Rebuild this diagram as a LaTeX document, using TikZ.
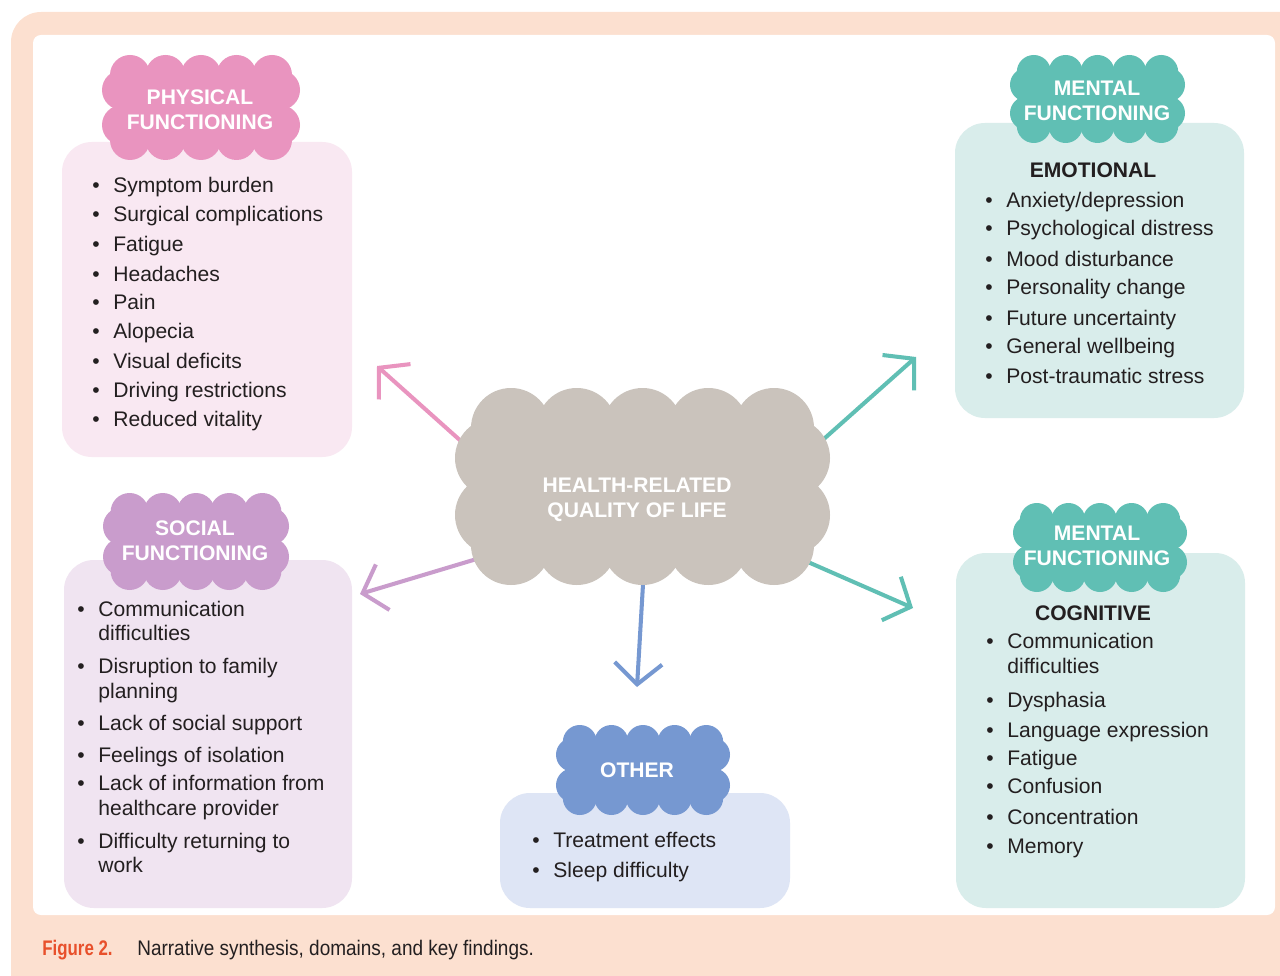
\documentclass[tikz,border=0pt]{standalone}
\usepackage{fontspec}
\setmainfont{Liberation Sans}
\newfontfamily\capfont[FakeStretch=0.9]{Liberation Sans}
\newfontfamily\caplblfont[FakeStretch=0.8]{Liberation Sans}
\usetikzlibrary{arrows.meta}

\definecolor{peach}{HTML}{FCE0D0}
\definecolor{ink}{HTML}{231F20}
\definecolor{figred}{HTML}{E8502B}
\definecolor{pinkcl}{HTML}{E994BF}
\definecolor{pinkbx}{HTML}{F9E8F2}
\definecolor{tealcl}{HTML}{60BFB4}
\definecolor{tealbx}{HTML}{D9EDEB}
\definecolor{purpcl}{HTML}{C99CCC}
\definecolor{purpbx}{HTML}{F0E4F1}
\definecolor{bluecl}{HTML}{7698D1}
\definecolor{bluebx}{HTML}{DEE5F5}
\definecolor{greycl}{HTML}{CAC3BC}

\pgfdeclarelayer{back}
\pgfdeclarelayer{mid}
\pgfsetlayers{back,mid,main}

% bumpy cloud: x1, y1, x2, y2, bump radius, colour
\newcommand{\puffcloud}[6]{%
  \fill[#6] ({#1+#5},{#2+#5}) rectangle ({#3-#5},{#4-#5});
  \foreach \k in {0,...,4}{
    \fill[#6] ({#1+1.4*#5+\k*(#3-#1-2.8*#5)/4},{#2+#5}) circle[radius=#5];
    \fill[#6] ({#1+1.4*#5+\k*(#3-#1-2.8*#5)/4},{#4-#5}) circle[radius=#5];
  }
  \foreach \k in {0,1}{
    \fill[#6] ({#1+#5},{#2+1.75*#5+\k*(#4-#2-3.5*#5)}) circle[radius=#5];
    \fill[#6] ({#3-#5},{#2+1.75*#5+\k*(#4-#2-3.5*#5)}) circle[radius=#5];
  }
}
\newcommand{\bul}{\makebox[0.42cm][l]{\textbullet}}
\newcommand{\nobul}{\hspace*{0.42cm}}

\begin{document}
\begin{tikzpicture}[x=0.02cm, y=-0.02cm,
    item/.style={anchor=base west, inner sep=0pt, text=ink, font=\fontsize{12}{14.4}\selectfont},
    head/.style={anchor=base, inner sep=0pt, text=ink, font=\fontsize{12}{14.4}\selectfont\bfseries},
    cloudtext/.style={align=center, inner sep=0pt, text=white, font=\fontsize{12}{14.4}\selectfont\bfseries},
    link/.style={line width=2.3pt, line cap=round, -{Straight Barb[length=0.42cm, width=0.95cm]}},
    panel/.style={rounded corners=0.6cm}]
\useasboundingbox (0,0) rectangle (1280,976);
\clip (0,0) rectangle (1280,976);

\begin{pgfonlayer}{back}
  \fill[peach, rounded corners=0.6cm] (11,12) rectangle (1320,1010);
  \fill[white, rounded corners=0.16cm] (33,35) rectangle (1275,915);
  \fill[pinkbx, panel] (62,142) rectangle (352,457);
  \fill[tealbx, panel] (955,123) rectangle (1244,418);
  \fill[purpbx, panel] (64,560) rectangle (352,908);
  \fill[tealbx, panel] (956,553) rectangle (1245,908);
  \fill[bluebx, panel] (500,793) rectangle (790,908);
\end{pgfonlayer}

% clouds
\puffcloud{455}{388}{830}{585}{40}{greycl}
\puffcloud{102}{55}{300}{160}{20}{pinkcl}
\puffcloud{1010}{55}{1185}{143}{17}{tealcl}
\puffcloud{103}{493}{289}{590}{19}{purpcl}
\puffcloud{1013}{503}{1187}{592}{17}{tealcl}
\puffcloud{556}{725}{730}{815}{17}{bluecl}

\node[cloudtext, minimum width=7.5cm, minimum height=3.9cm] (hrql) at (637,500) {HEALTH-RELATED\\QUALITY OF LIFE};
\node[cloudtext] (physcl) at (200,110) {PHYSICAL\\FUNCTIONING};
\node[cloudtext] (mentcl) at (1097,101) {MENTAL\\FUNCTIONING};
\node[cloudtext] (soccl) at (195,541) {SOCIAL\\FUNCTIONING};
\node[cloudtext] (cogcl) at (1097,546) {MENTAL\\FUNCTIONING};
\node[cloudtext] (othcl) at (637,770) {OTHER};

% arrows out of the centre
\coordinate (physend) at (377,366);
\coordinate (socend) at (360,594);
\coordinate (mentend) at (916,357);
\coordinate (cogend) at (913,608);
\coordinate (othend) at (637,687);
\begin{pgfonlayer}{mid}
  \draw[link, pinkcl] ([shift={(-137,-24)}]hrql.center) -- (physend);
  \draw[link, purpcl] ([shift={(-117,46)}]hrql.center) -- (socend);
  \draw[link, tealcl] ([shift={(143,-22)}]hrql.center) -- (mentend);
  \draw[link, tealcl] ([shift={(123,41)}]hrql.center) -- (cogend);
  \draw[link, bluecl] ([shift={(8,50)}]hrql.center) -- (othend);
\end{pgfonlayer}

% lists
\foreach \y/\t [count=\i] in {193/Symptom burden, 222/Surgical complications, 252/Fatigue, 281/Headaches, 310/Pain, 338/Alopecia, 368/Visual deficits, 397/Driving restrictions, 426/Reduced vitality}
  \node[item] (phys\i) at (92,\y) {\bul\t};

\node[head] (emohead) at (1093,178) {EMOTIONAL};
\foreach \y/\t [count=\i] in {208/{Anxiety/depression}, 236/Psychological distress, 267/Mood disturbance, 295/Personality change, 325/Future uncertainty, 353/General wellbeing, 383/Post-traumatic stress}
  \node[item] (emo\i) at (985,\y) {\bul\t};

\foreach \y/\t [count=\i] in {616/\bul Communication, 640/\nobul difficulties, 673/\bul Disruption to family, 698/\nobul planning, 730/\bul Lack of social support, 762/\bul Feelings of isolation, 790/\bul Lack of information from, 815/\nobul healthcare provider, 848/\bul Difficulty returning to, 872/\nobul work}
  \node[item] (soc\i) at (77,\y) {\t};

\node[head] (coghead) at (1093,620) {COGNITIVE};
\foreach \y/\t [count=\i] in {648/\bul Communication, 673/\nobul difficulties, 707/\bul Dysphasia, 737/\bul Language expression, 765/\bul Fatigue, 793/\bul Confusion, 824/\bul Concentration, 853/\bul Memory}
  \node[item] (cog\i) at (986,\y) {\t};

\foreach \y/\t [count=\i] in {847/Treatment effects, 877/Sleep difficulty}
  \node[item] (oth\i) at (532,\y) {\bul\t};

% caption
\node[anchor=base west, inner sep=0pt, text=figred, font=\caplblfont\fontsize{12}{14.4}\selectfont\bfseries] (figlbl) at (42,955) {Figure 2.};
\node[anchor=base west, inner sep=0pt, text=ink, font=\capfont\fontsize{12}{14.4}\selectfont] (figcap) at (137,955) {Narrative synthesis, domains, and key findings.};
\end{tikzpicture}
\end{document}
